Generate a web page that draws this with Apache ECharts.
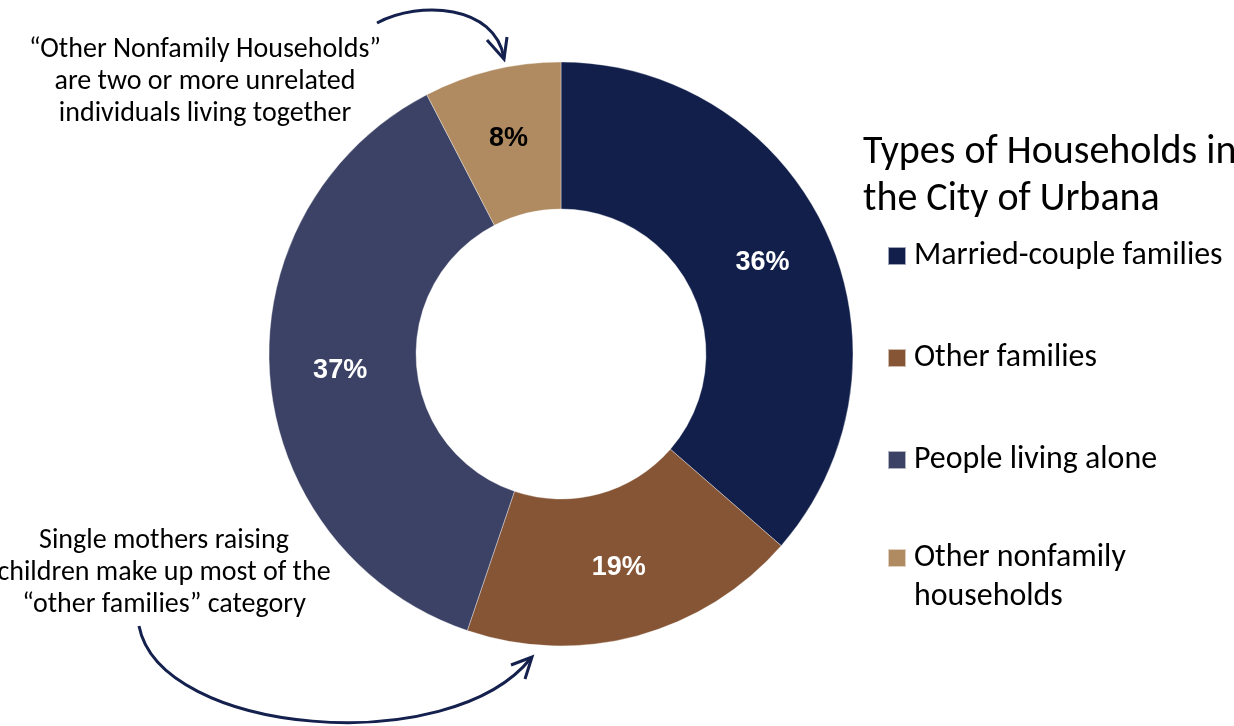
<!DOCTYPE html>
<html>
<head>
<meta charset="utf-8">
<script src="https://cdn.jsdelivr.net/npm/echarts@6/dist/echarts.min.js"></script>
<style>
html,body{margin:0;padding:0;background:#fff;}
#chart{width:1234px;height:726px;}
</style>
</head>
<body>
<div id="chart"></div>
<script>
// ---- Data ----
const categories = ['Married-couple families', 'Other families', 'People living alone', 'Other nonfamily\nhouseholds'];
const shares = [36.4, 18.8, 37.2, 7.6];
const sliceColors = ['#111f4a', '#865535', '#3c4265', '#b08b61'];
const labelColors = ['#ffffff', '#ffffff', '#ffffff', '#000000'];
const titleText = 'Types of Households in\nthe City of Urbana';
const noteTop = '\u201cOther Nonfamily Households\u201d\nare two or more unrelated\nindividuals living together';
const noteBottom = 'Single mothers raising\nchildren make up most of the\n\u201cother families\u201d category';

// ---- font fitting ----
const FAMILY = 'Carlito, Lato, "Open Sans", sans-serif';
const mctx = document.createElement('canvas').getContext('2d');
function fit(text, target, weight) {
  mctx.font = (weight || 'normal') + ' 100px ' + FAMILY;
  return Math.round(100 * target / mctx.measureText(text).width * 10) / 10;
}
const titleSize = fit('the City of Urbana', 297);
const legendSize = fit('Married-couple families', 309);
const noteSize = (fit('children make up most of the', 332) + fit('\u201cOther Nonfamily Households\u201d', 354)) / 2;

const chart = echarts.init(document.getElementById('chart'), null, {renderer: 'canvas'});

const pieData = categories.map((n, i) => ({
  name: n,
  value: shares[i],
  itemStyle: {color: sliceColors[i]},
  label: {color: labelColors[i]}
}));

const lineColor = '#14204d';
const legendText = {
  fontFamily: FAMILY,
  fontSize: legendSize,
  lineHeight: 39,
  color: '#000000',
  padding: [0, 0, 0, 3]
};

chart.setOption({
  animation: false,
  backgroundColor: '#ffffff',
  title: {
    text: titleText,
    left: 863,
    top: 129,
    padding: 0,
    textStyle: {
      fontFamily: FAMILY,
      fontWeight: 'normal',
      fontSize: titleSize,
      lineHeight: 47,
      color: '#000000'
    }
  },
  legend: [
    {
      orient: 'vertical',
      left: 882,
      top: 231.5,
      itemWidth: 18,
      itemHeight: 18,
      itemGap: 63,
      icon: 'rect',
      selectedMode: false,
      data: categories.slice(0, 3),
      textStyle: legendText
    },
    {
      orient: 'vertical',
      left: 882,
      top: 494.5,
      itemWidth: 18,
      itemHeight: 18,
      icon: 'rect',
      selectedMode: false,
      data: categories.slice(3),
      // leading blank line keeps the first text line level with the swatch
      formatter: name => '\n' + name,
      textStyle: legendText
    }
  ],
  series: [{
    type: 'pie',
    center: [561, 354],
    radius: [145, 292],
    startAngle: 90,
    clockwise: true,
    silent: true,
    itemStyle: {borderColor: 'rgba(255,255,255,0.6)', borderWidth: 0.6},
    label: {
      show: true,
      position: 'inside',
      formatter: p => Math.round(p.value) + '%',
      fontFamily: '"Liberation Sans", Arial, sans-serif',
      fontWeight: 'bold',
      fontSize: 27
    },
    labelLine: {show: false},
    data: pieData
  }],
  graphic: [
    {
      type: 'text', x: 205, y: 82, silent: true,
      style: {text: noteTop, fontFamily: FAMILY, fontSize: noteSize, lineHeight: 32,
        fill: '#000', align: 'center', verticalAlign: 'middle'}
    },
    {
      type: 'text', x: 164, y: 573, silent: true,
      style: {text: noteBottom, fontFamily: FAMILY, fontSize: noteSize, lineHeight: 32,
        fill: '#000', align: 'center', verticalAlign: 'middle'}
    },
    {
      type: 'bezierCurve', silent: true,
      shape: {x1: 377, y1: 23, cpx1: 420, cpy1: 0, cpx2: 495, cpy2: 5, x2: 504, y2: 58},
      style: {stroke: lineColor, lineWidth: 3, fill: null}
    },
    {
      type: 'polyline', silent: true,
      shape: {points: [[487, 40], [504, 59], [507, 37]]},
      style: {stroke: lineColor, lineWidth: 3, fill: null, lineJoin: 'miter'}
    },
    {
      type: 'bezierCurve', silent: true,
      shape: {x1: 139, y1: 626, cpx1: 160, cpy1: 735, cpx2: 450, cpy2: 760, x2: 531, y2: 658},
      style: {stroke: lineColor, lineWidth: 3, fill: null}
    },
    {
      type: 'polyline', silent: true,
      shape: {points: [[511, 665], [532, 657], [525, 679]]},
      style: {stroke: lineColor, lineWidth: 3, fill: null, lineJoin: 'miter'}
    }
  ]
});
</script>
</body>
</html>
